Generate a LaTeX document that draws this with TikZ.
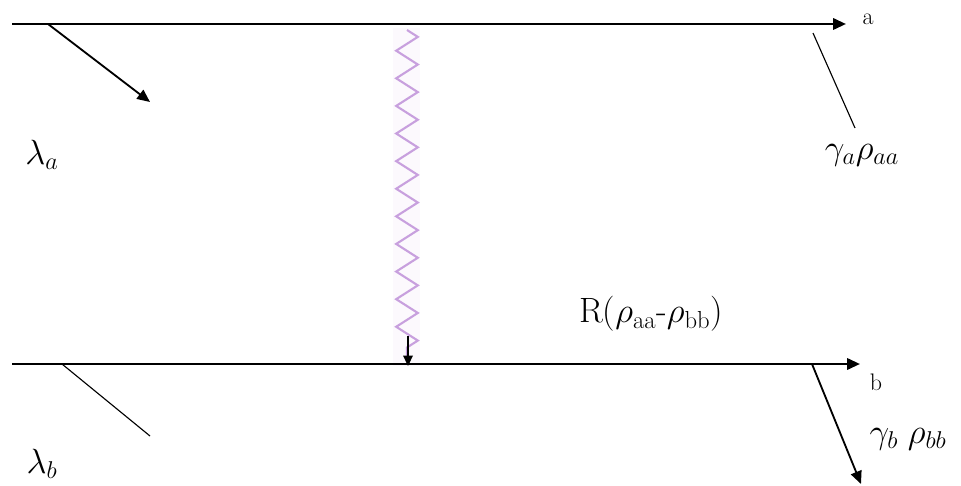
\documentclass[tikz,border=0pt]{standalone}
\usepackage{amsmath}
\usetikzlibrary{arrows.meta, decorations.pathmorphing}
\definecolor{wavepink}{RGB}{200,160,222}

\begin{document}
\begin{tikzpicture}[
    x=0.025cm, y=-0.025cm,
    level/.style={line width=1.8pt, -{Triangle[length=3.2mm, width=2.8mm]}},
    rate/.style={line width=1.3pt, -{Triangle[length=3.2mm, width=2.8mm]}},
    tick/.style={line width=0.8pt},
    biglabel/.style={font=\fontsize{25}{30}\selectfont, inner sep=0pt},
    smalllabel/.style={font=\fontsize{17}{20}\selectfont, inner sep=0pt},
    wave/.style={wavepink, line width=1.5pt, decorate,
        decoration={zigzag, segment length=0.69cm, amplitude=0.27cm}},
]
\useasboundingbox (0,0) rectangle (961,486);

% transition background
\fill[wavepink!6] (393,28) rectangle (420,366);

% levels
\coordinate (aL) at (12,24);
\coordinate (aR) at (846,24);
\coordinate (bL) at (12,364);
\coordinate (bR) at (860,364);
\draw[level] (aL) -- (aR);
\draw[level] (bL) -- (bR);
\node[smalllabel] (alab) at (868,19) {a};
\node[smalllabel] (blab) at (876,382) {b};

% pumping and decay
\coordinate (pa0) at (48,24);
\coordinate (pa1) at (150,102);
\draw[rate] (pa0) -- (pa1);
\node[biglabel] (lama) at (42,155) {$\lambda_a$};

\coordinate (pb0) at (62,364);
\coordinate (pb1) at (150,436);
\draw[tick] (pb0) -- (pb1);
\node[biglabel] (lamb) at (42,464) {$\lambda_b$};

\coordinate (ga0) at (813,33);
\coordinate (ga1) at (855,128);
\draw[tick] (ga0) -- (ga1);
\node[biglabel] (gama) at (862,155) {$\gamma_a\rho_{aa}$};

\coordinate (gb0) at (812,364);
\coordinate (gb1) at (861,484);
\draw[rate] (gb0) -- (gb1);
\node[biglabel] (gamb) at (908,439) {$\gamma_b\;\rho_{bb}$};

% transition between levels
\coordinate (w0) at (407,30);
\coordinate (w1) at (407,360);
\draw[wave] (w0) -- (w1);
\coordinate (r0) at (408,336);
\coordinate (r1) at (408,366);
\draw[rate, line width=1pt, -{Triangle[length=2.6mm, width=2.4mm]}] (r0) -- (r1);
\node[biglabel] (rlab) at (651,314) {R($\rho_{\text{aa}}$-$\rho_{\text{bb}}$)};

\end{tikzpicture}
\end{document}
